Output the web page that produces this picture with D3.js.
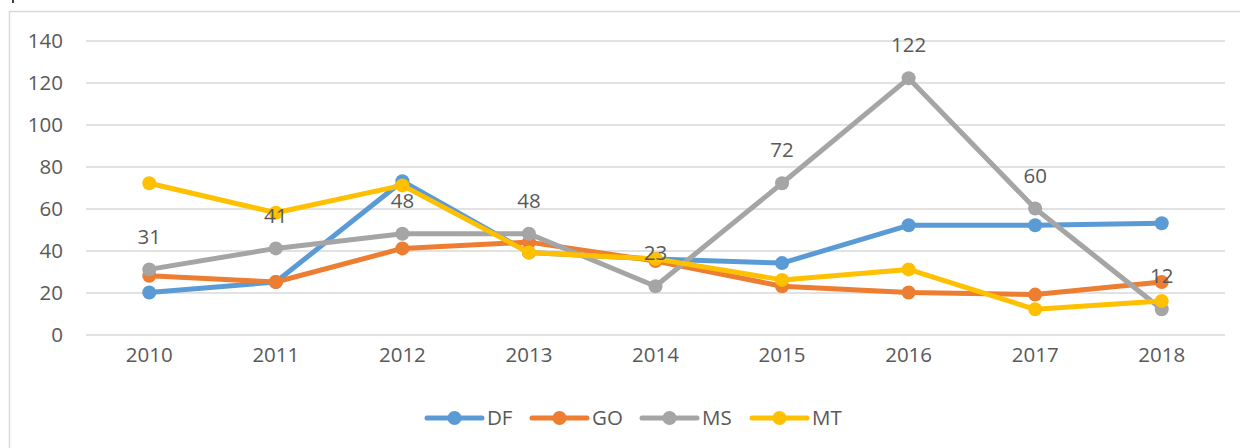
<!DOCTYPE html>
<html>
<head>
<meta charset="utf-8">
<script src="https://cdn.jsdelivr.net/npm/d3@7"></script>
<style>
  html, body { margin: 0; padding: 0; background: #fff; }
  svg { display: block; }
  text { font-family: "Open Sans", "Liberation Sans", sans-serif; }
</style>
</head>
<body>
<svg id="chart" width="1240" height="448"></svg>
<script>
// Years on the category axis
const years = ["2010", "2011", "2012", "2013", "2014", "2015", "2016", "2017", "2018"];

// Series values per year
const seriesNames = ["DF", "GO", "MS", "MT"];
const dfValues = [20, 25, 73, 39, 36, 34, 52, 52, 53];
const goValues = [28, 25, 41, 44, 35, 23, 20, 19, 25];
const msValues = [31, 41, 48, 48, 23, 72, 122, 60, 12];
const mtValues = [72, 58, 71, 39, 36, 26, 31, 12, 16];

// Value axis ticks
const yTicks = [0, 20, 40, 60, 80, 100, 120, 140];

const seriesColors = ["#5B9BD5", "#ED7D31", "#A5A5A5", "#FFC000"];
const seriesData = [dfValues, goValues, msValues, mtValues];
const labelledSeries = "MS";
const fontSize = 20.5;

const svg = d3.select("#chart");

// Outer frame of the chart area
svg.append("path")
  .attr("d", "M9.5,448 V11.5 H1240")
  .attr("fill", "none")
  .attr("stroke", "#D9D9D9")
  .attr("stroke-width", 1.5);
svg.append("rect")
  .attr("x", 12).attr("y", 0).attr("width", 2).attr("height", 3)
  .attr("fill", "#404040");

const plot = { left: 86, right: 1225, top: 40.5, bottom: 334.5 };

const x = d3.scaleBand()
  .domain(years)
  .range([plot.left, plot.right]);

const y = d3.scaleLinear()
  .domain([0, 140])
  .range([plot.bottom, plot.top]);

const cx = d => x(d) + x.bandwidth() / 2;

// Horizontal gridlines
const yAxis = d3.axisLeft(y)
  .tickValues(yTicks)
  .tickSize(-(plot.right - plot.left))
  .tickPadding(23)
  .tickFormat(d3.format("d"));

const gy = svg.append("g")
  .attr("transform", `translate(${plot.left},0)`)
  .call(yAxis);
gy.select(".domain").remove();
gy.selectAll(".tick line")
  .attr("stroke", "#D9D9D9")
  .attr("stroke-width", 1.5);
gy.selectAll(".tick text")
  .attr("fill", "#595959")
  .attr("font-size", fontSize)
  .attr("dy", "0.35em");

// Category axis labels
const xAxis = d3.axisBottom(x).tickSize(0).tickPadding(20);
const gx = svg.append("g")
  .attr("transform", `translate(0,${plot.bottom})`)
  .call(xAxis);
gx.select(".domain").remove();
gx.selectAll(".tick text")
  .attr("fill", "#595959")
  .attr("font-size", fontSize)
  .attr("dy", "0.35em");

const line = d3.line()
  .x((d, i) => cx(years[i]))
  .y(d => y(d));

// Series lines with circular markers
seriesNames.forEach((name, s) => {
  const g = svg.append("g").attr("class", "series-" + name);
  g.append("path")
    .datum(seriesData[s])
    .attr("d", line)
    .attr("fill", "none")
    .attr("stroke", seriesColors[s])
    .attr("stroke-width", 5)
    .attr("stroke-linejoin", "round")
    .attr("stroke-linecap", "round");
  g.selectAll("circle")
    .data(seriesData[s])
    .join("circle")
    .attr("cx", (d, i) => cx(years[i]))
    .attr("cy", d => y(d))
    .attr("r", 7)
    .attr("fill", seriesColors[s]);
});

// Data labels for MS
const msIndex = seriesNames.indexOf(labelledSeries);
svg.append("g")
  .selectAll("text")
  .data(seriesData[msIndex])
  .join("text")
  .attr("x", (d, i) => cx(years[i]))
  .attr("y", d => y(d) - 33)
  .attr("dy", "0.35em")
  .attr("text-anchor", "middle")
  .attr("fill", "#595959")
  .attr("font-size", fontSize)
  .text(d => d);

// Legend
const legendX = [427, 532, 642, 752];
const legend = svg.append("g").attr("transform", "translate(0,418)");
seriesNames.forEach((name, s) => {
  const lg = legend.append("g").attr("transform", `translate(${legendX[s]},0)`);
  lg.append("line")
    .attr("x1", 0).attr("x2", 55)
    .attr("y1", 0).attr("y2", 0)
    .attr("stroke", seriesColors[s])
    .attr("stroke-width", 5)
    .attr("stroke-linecap", "round");
  lg.append("circle")
    .attr("cx", 27.5).attr("cy", 0).attr("r", 7)
    .attr("fill", seriesColors[s]);
  lg.append("text")
    .attr("x", 60).attr("y", 0)
    .attr("dy", "0.35em")
    .attr("fill", "#595959")
    .attr("font-size", fontSize)
    .text(name);
});
</script>
</body>
</html>
